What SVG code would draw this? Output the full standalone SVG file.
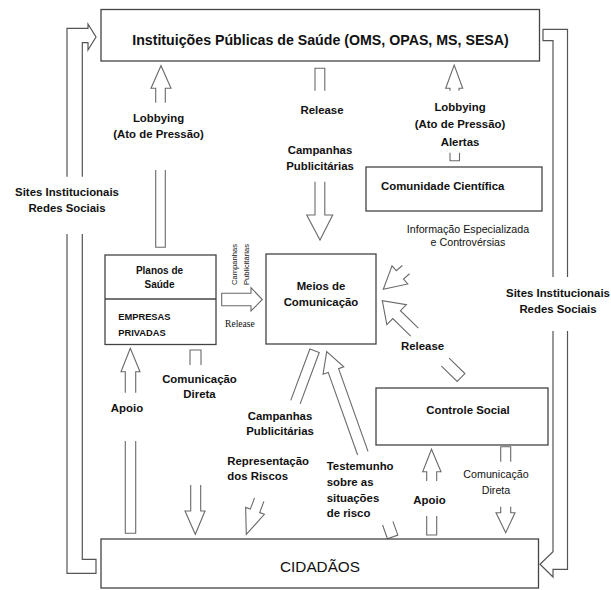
<svg xmlns="http://www.w3.org/2000/svg" width="611" height="590" viewBox="0 0 611 590">
<style>
.box{fill:#fff;stroke:#444;stroke-width:1.3}
.arr{fill:none;stroke:#6a6a6a;stroke-width:1.1;stroke-linejoin:miter}
.loop{fill:none;stroke:#555;stroke-width:1.2}
text{font-family:"Liberation Sans",Arial,sans-serif;fill:#111}
.b{font-weight:bold;font-size:11.4px}
.r{font-size:10.7px}
.c{text-anchor:middle}
</style>
<rect width="611" height="590" fill="#fff"/>

<g id="connectors">
  <!-- left loop: Cidadaos -> Instituicoes -->
  <path class="loop" d="M67 176.7 V28.3 H88 V24 L96 37 L88 50 V42.7 H82.3 V176.7"/>
  <path class="loop" d="M67 234 V573.3 H96 V559.3 H82.3 V234"/>
  <!-- right loop: Instituicoes -> Cidadaos -->
  <path class="loop" d="M553 277 V40.7 H543 V29.3 H567.5 V277"/>
  <path class="loop" d="M553 331 V551.7 L540 564.3 L553 577 V569.3 H567.5 V331"/>

  <!-- Lobbying left (Planos -> Instituicoes) -->
  <path class="arr" d="M155.7 102.7 V88.3 H151 L161 65.7 L171 88.3 H165.3 V102.7"/>
  <path class="arr" d="M155.7 170 V247.3 H165.3 V170"/>
  <!-- Release / Campanhas (Instituicoes -> Meios) -->
  <path class="arr" d="M315 90.7 V68.3 H324.8 V90.7"/>
  <path class="arr" d="M315 181.7 V215 H306.7 L320 240 L332.7 215 H324.8 V181.7"/>
  <!-- Lobbying right (Comunidade -> Instituicoes) -->
  <path class="arr" d="M450 90.7 V88.3 H445.7 L454.2 65 L462.7 88.3 H459 V90.7"/>
  <path class="arr" d="M450 152.7 V160.7 H459.5 V152.7"/>
  <!-- Planos -> Meios -->
  <path class="arr" d="M251 293.3 H221.7 V305.7 H251 V311 L262.3 299.5 L251 287.7 Z"/>
  <!-- Info Especializada (Comunidade -> Meios) -->
  <g transform="translate(383.3 289.3) rotate(139)">
    <path class="arr" d="M-30 -5.5 L-22 -5.5 L-22 -12 L0 0 L-22 12 L-22 5.5 L-30 5.5"/>
  </g>
  <!-- Release (Controle Social -> Meios) -->
  <g transform="translate(382.3 300.7) rotate(-135.7)">
    <path class="arr" d="M-45 -5.5 L-20 -5.5 L-20 -14 L0 0 L-20 14 L-20 5.5 L-45 5.5"/>
    <path class="arr" d="M-88 -5.5 L-110 -5.5 L-110 5.5 L-88 5.5"/>
  </g>
  <!-- Campanhas / Representacao (Meios -> Cidadaos) -->
  <g transform="translate(246.3 534.3) rotate(110.4)">
    <path class="arr" d="M-141 -5 L-195.8 -5 L-195.8 5 L-141 5"/>
    <path class="arr" d="M-37 -5 L-25 -5 L-25 -10 L0 0 L-25 10 L-25 5 L-37 5"/>
  </g>
  <!-- Testemunho (Cidadaos -> Meios) -->
  <g transform="translate(326.7 351.7) rotate(-109.6)">
    <path class="arr" d="M-107.7 -5.5 L-20 -5.5 L-20 -11 L0 0 L-20 11 L-20 5.5 L-107.7 5.5"/>
    <path class="arr" d="M-182 -5.5 L-196.6 -5.5 L-196.6 5.5 L-182 5.5"/>
  </g>
  <!-- Apoio left (Cidadaos -> Planos) -->
  <path class="arr" d="M125.3 392.7 V371.7 H121 L130.3 348.3 L140 371.7 H135.7 V392.7"/>
  <path class="arr" d="M125.3 441 V533.3 H135.7 V441"/>
  <!-- Comunicacao Direta left (Planos -> Cidadaos) -->
  <path class="arr" d="M190 365 V350 H201 V365"/>
  <path class="arr" d="M190.7 485 V511 H185 L195.3 534.3 L205 511 H200.7 V485"/>
  <!-- Apoio right (Cidadaos -> Controle) -->
  <path class="arr" d="M426.7 481 V471.7 H422.7 L431.5 449.3 L441 471.7 H436.7 V481"/>
  <path class="arr" d="M426.7 516 V535 H436.7 V516"/>
  <!-- Comunicacao Direta right (Controle -> Cidadaos) -->
  <path class="arr" d="M500.7 461.7 V446.7 H510.7 V461.7"/>
  <path class="arr" d="M500.7 506.7 V512.7 H496 L505.7 532.7 L515 512.7 H510.7 V506.7"/>
</g>

<g id="labels">
  <text class="b c" x="67" y="196">Sites Institucionais</text>
  <text class="b c" x="67" y="212">Redes Sociais</text>
  <text class="b c" x="558" y="297">Sites Institucionais</text>
  <text class="b c" x="558" y="313">Redes Sociais</text>
  <text class="b c" x="158.5" y="121.5">Lobbying</text>
  <text class="b c" x="158.5" y="137.5">(Ato de Pressão)</text>
  <text class="b c" x="322" y="114">Release</text>
  <text class="b c" x="320" y="154">Campanhas</text>
  <text class="b c" x="320" y="170">Publicitárias</text>
  <text class="b c" x="460" y="111">Lobbying</text>
  <text class="b c" x="460" y="128">(Ato de Pressão)</text>
  <text class="b c" x="460" y="146">Alertas</text>
  <text class="r c" x="468" y="233">Informação Especializada</text>
  <text class="r c" x="468" y="245.5">e Controvérsias</text>
  <text style="font-size:7.6px" transform="translate(237 285) rotate(-90)">Campanhas</text>
  <text style="font-size:7.6px" transform="translate(249 285) rotate(-90)">Publicitárias</text>
  <text x="225" y="326.7" style="font-family:'Liberation Serif',serif;font-size:9.6px">Release</text>
  <text class="b" x="401" y="350">Release</text>
  <text class="b c" x="127" y="412">Apoio</text>
  <text class="b c" x="199.5" y="383">Comunicação</text>
  <text class="b c" x="199.5" y="397.5">Direta</text>
  <text class="b c" x="280" y="420">Campanhas</text>
  <text class="b c" x="280" y="435">Publicitárias</text>
  <text class="b" x="227.3" y="465">Representação</text>
  <text class="b" x="227.3" y="480">dos Riscos</text>
  <text class="b" x="326.7" y="470">Testemunho</text>
  <text class="b" x="326.7" y="486">sobre as</text>
  <text class="b" x="326.7" y="501.5">situações</text>
  <text class="b" x="326.7" y="517">de risco</text>
  <text class="b c" x="429.5" y="504">Apoio</text>
  <text class="r c" x="496" y="478">Comunicação</text>
  <text class="r c" x="496" y="494">Direta</text>
</g>

<g id="instituicoes">
  <rect class="box" x="101" y="9.5" width="438.5" height="51.5"/>
  <text class="c" x="320.5" y="45" style="font-weight:bold;font-size:14.2px">Instituições Públicas de Saúde (OMS, OPAS, MS, SESA)</text>
</g>
<g id="comunidade">
  <rect class="box" x="366" y="167" width="176" height="44"/>
  <text class="b" x="381" y="190">Comunidade Científica</text>
</g>
<g id="planos">
  <rect class="box" x="105" y="255" width="111" height="89.5"/>
  <line x1="105" y1="299" x2="216" y2="299" stroke="#444" stroke-width="1.3"/>
  <text class="c" x="159.5" y="273.5" style="font-weight:bold;font-size:10px">Planos de</text>
  <text class="c" x="159.5" y="287.5" style="font-weight:bold;font-size:10px">Saúde</text>
  <text x="118.3" y="320" style="font-weight:bold;font-size:9.3px">EMPRESAS</text>
  <text x="118.3" y="335.7" style="font-weight:bold;font-size:9.3px">PRIVADAS</text>
</g>
<g id="meios">
  <rect class="box" x="266" y="254" width="110" height="90"/>
  <text class="b c" x="321" y="290">Meios de</text>
  <text class="b c" x="321" y="306">Comunicação</text>
</g>
<g id="controle">
  <rect class="box" x="376" y="388" width="172" height="57"/>
  <text class="b c" x="468" y="414">Controle Social</text>
</g>
<g id="cidadaos">
  <rect class="box" x="101" y="539" width="437.5" height="49"/>
  <text class="c" x="320" y="572" style="font-size:15.3px">CIDADÃOS</text>
</g>
</svg>
